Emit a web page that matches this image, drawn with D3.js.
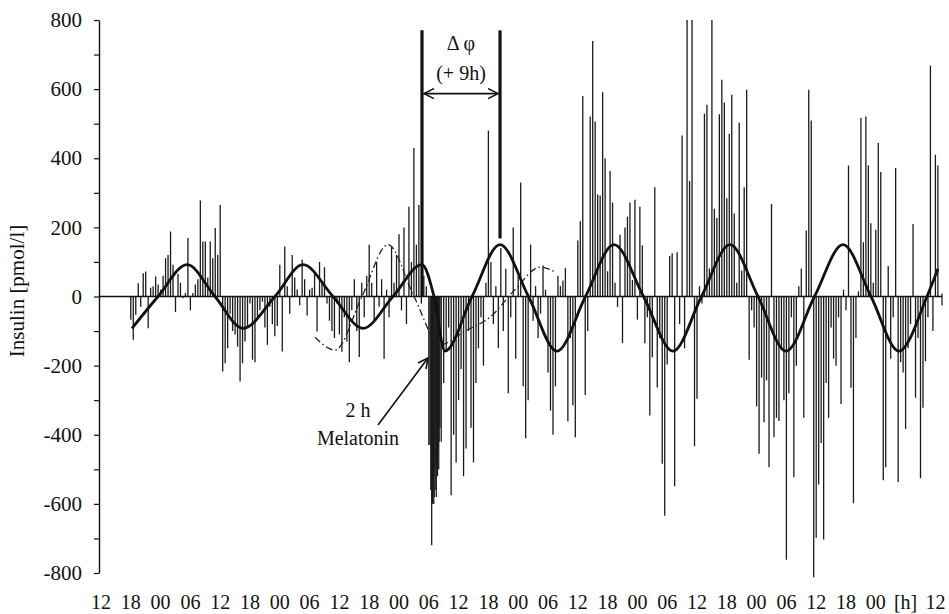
<!DOCTYPE html>
<html><head><meta charset="utf-8">
<script src="https://cdn.jsdelivr.net/npm/d3@7"></script>
<style>
body{margin:0;background:#fff}
svg{display:block}
svg text{font-family:"Liberation Serif","Times New Roman",serif;fill:#111}
</style>
</head><body>
<svg id="chart" width="949" height="614"></svg>
<script>
// ---- data ----
const startHour = 6;      // first sample: 18:00 of day 1 (hours after the first 12:00 label)
const stepHours = 0.5;    // sampling interval
const insulin = [
 -67,-125,-53,38,-30,67,72,-92,25,30,58,35,20,60,111,120,188,92,-45,65,40,-5,10,169,-40,
 10,35,50,278,159,159,55,159,111,198,120,265,-217,-193,-150,-50,-100,-110,-145,-246,-193,-130,-85,-20,-183,
 -190,-60,-40,-15,-90,-140,-30,-80,-115,-85,92,-159,145,30,-50,120,55,20,-25,106,50,-55,20,25,70,
 -101,100,45,85,-20,-70,-100,-120,
 -20,-110,-160,-60,-130,-190,-40,50,-100,-175,40,-60,60,150,40,-70,100,-30,50,-180,20,-60,145,40,120,180,-40,200,-80,260,100,430,150,265,-20,60,30,-430,
 -560,-600,-580,-500,-420,
 -250,-160,-90,-575,-400,-480,-300,-210,-520,-440,-100,-380,-480,-250,-150,-60,-200,40,480,100,-80,30,-150,140,
 -100,80,-280,-60,200,-180,60,330,-260,-410,-300,150,-70,30,-120,-50,90,20,-220,-330,-400,-260,60,
 30,46,82,-361,-120,-315,-407,162,218,580,-285,-100,521,739,506,295,292,591,399,73,363,272,40,-30,179,-135,200,
 231,272,48,280,-67,260,148,-135,-60,-344,-176,316,-263,-120,-484,-634,-197,117,125,-549,128,-80,466,-150,800,
 334,800,-433,-296,30,-20,529,555,81,800,254,227,527,627,561,284,471,584,240,40,503,75,316,598,-183,-40,-90,
 -318,-455,-235,-364,-243,-494,268,-407,-351,-360,-150,-300,-762,-280,-60,-523,-200,30,81,-351,191,598,509,-812,
 -698,-544,-424,-703,-250,-351,-90,-180,-200,-60,-311,20,-40,379,-264,-598,-120,15,517,157,521,379,212,40,193,
 444,360,-532,-494,88,-180,-60,372,-537,-190,-220,-383,-150,-80,210,-293,-120,-526,-322,-187,-60,668,-100,410,379
];
// 2 h melatonin infusion: denser sampling
const melatoninStart = 66.25;
const melatoninStep = 1/6;
const melatoninInsulin = [-430,-560,-720,-600,-540,-580,-500,-560,-480,-520,-440,-420,-380];

// fitted rhythm (solid) – key points
const fitHours  = [6.24,11.48,17.32,22.95,28.59,35.03,40.67,46.71,52.75,58.79,64.63,67.05,69.26,74.70,80.34,86.07,91.81,97.55,103.29,109.23,115.17,120.91,126.64,132.28,137.92,143.66,149.40,155.03,160.67,166.31,168.52];
const fitValues = [-92,0,92,0,-92,0,92,0,-92,0,92,0,-158,0,150,0,-158,0,150,0,-158,0,150,0,-158,0,150,0,-158,0,80];
// extrapolated rhythm (dash-dot)
const projHours  = [43.09,47.11,52.55,57.78,63.02,68.26,73.29,78.32,83.36,88.39,91.61];
const projValues = [-118,-155,0,150,0,-140,-100,-60,20,85,70];
// axes
const yTicks = [-800,-600,-400,-200,0,200,400,600,800];
const yMinorTicks = [-700,-500,-300,-100,100,300,500,700];
const xTickLabels = ["12","18","00","06","12","18","00","06","12","18","00","06","12","18","00","06","12","18","00","06","12","18","00","06","12","18","00","[h]","12"];
// phase markers
const markerHours = [64.63, 80.34];
const markerTops = [770, 770];
const markerBottoms = [0, 168];

// ---- drawing ----
const svg = d3.select("#chart");
const x = d3.scaleLinear().domain([0,168]).range([101,935.4]);
const y = d3.scaleLinear().domain([-800,800]).range([573,20]);

const bars = insulin.map((v,i)=>({h:startHour+i*stepHours, v}))
  .concat(melatoninInsulin.map((v,i)=>({h:melatoninStart+i*melatoninStep, v})));
svg.append("g").selectAll("line").data(bars).join("line")
  .attr("x1",d=>x(d.h)).attr("x2",d=>x(d.h))
  .attr("y1",y(0)).attr("y2",d=>y(d.v))
  .attr("stroke","#1a1a1a").attr("stroke-width",1.3);

// zero line
svg.append("line").attr("x1",99).attr("x2",942).attr("y1",y(0)).attr("y2",y(0))
  .attr("stroke","#111").attr("stroke-width",1.4);
svg.append("line").attr("x1",942).attr("x2",942).attr("y1",y(0)-3).attr("y2",y(0)+9)
  .attr("stroke","#111").attr("stroke-width",1.2);

// y axis
const yAxis = svg.append("g").attr("transform","translate(99,0)")
  .call(d3.axisLeft(y).tickValues(yTicks).tickSize(5).tickSizeOuter(0).tickPadding(12).tickFormat(d=>String(d)));
svg.append("g").attr("transform","translate(99,0)")
  .call(d3.axisLeft(y).tickValues(yMinorTicks).tickSize(5).tickSizeOuter(0).tickFormat(""))
  .select(".domain").remove();
svg.selectAll(".tick line").attr("stroke","#111").attr("stroke-width",1.2);
yAxis.select(".domain").attr("stroke","#111").attr("stroke-width",1.4);
yAxis.selectAll("text").attr("font-size",21).attr("fill","#111");

svg.append("text").attr("transform","translate(24,291) rotate(-90)")
  .attr("text-anchor","middle").attr("font-size",21).text("Insulin [pmol/l]");

// x labels
svg.append("g").selectAll("text").data(xTickLabels).join("text")
  .attr("x",(d,i)=>x(i*6)).attr("y",609).attr("text-anchor","middle").attr("font-size",20).text(d=>d);

// curves
const line = d3.line().curve(d3.curveMonotoneX);
svg.append("path").attr("d",line(projHours.map((h,i)=>[x(h),y(projValues[i])])))
  .attr("fill","none").attr("stroke","#222").attr("stroke-width",1.3).attr("stroke-dasharray","7,3,1.5,3");
svg.append("path").attr("d",line(fitHours.map((h,i)=>[x(h),y(fitValues[i])])))
  .attr("fill","none").attr("stroke","#111").attr("stroke-width",2.8);

// phase markers
svg.append("g").selectAll("line").data(markerHours).join("line")
  .attr("x1",d=>x(d)).attr("x2",d=>x(d))
  .attr("y1",(d,i)=>y(markerTops[i])).attr("y2",(d,i)=>y(markerBottoms[i]))
  .attr("stroke","#111").attr("stroke-width",3.2);

// arrow heads
const defs = svg.append("defs");
defs.append("marker").attr("id","ah").attr("viewBox","0 0 12 12").attr("refX",11).attr("refY",6)
  .attr("markerWidth",12).attr("markerHeight",12).attr("markerUnits","userSpaceOnUse").attr("orient","auto-start-reverse")
  .append("path").attr("d","M1,1 L11,6 L1,11").attr("fill","none").attr("stroke","#111").attr("stroke-width",1.6);

const ay = y(587);
svg.append("line").attr("x1",x(markerHours[0])+2).attr("x2",x(markerHours[1])-2).attr("y1",ay).attr("y2",ay)
  .attr("stroke","#111").attr("stroke-width",1.6).attr("marker-start","url(#ah)").attr("marker-end","url(#ah)");
const mid = (x(markerHours[0])+x(markerHours[1]))/2;
svg.append("text").attr("x",mid).attr("y",50).attr("text-anchor","middle").attr("font-size",20).text("\u0394 \u03c6");
svg.append("text").attr("x",mid).attr("y",80).attr("text-anchor","middle").attr("font-size",20).text("(+ 9h)");

// melatonin annotation
svg.append("line").attr("x1",378).attr("y1",425).attr("x2",428).attr("y2",358)
  .attr("stroke","#111").attr("stroke-width",1.6).attr("marker-end","url(#ah)");
svg.append("text").attr("x",358).attr("y",417).attr("text-anchor","middle").attr("font-size",20).text("2 h");
svg.append("text").attr("x",358).attr("y",445).attr("text-anchor","middle").attr("font-size",20).text("Melatonin");
</script>
</body></html>
